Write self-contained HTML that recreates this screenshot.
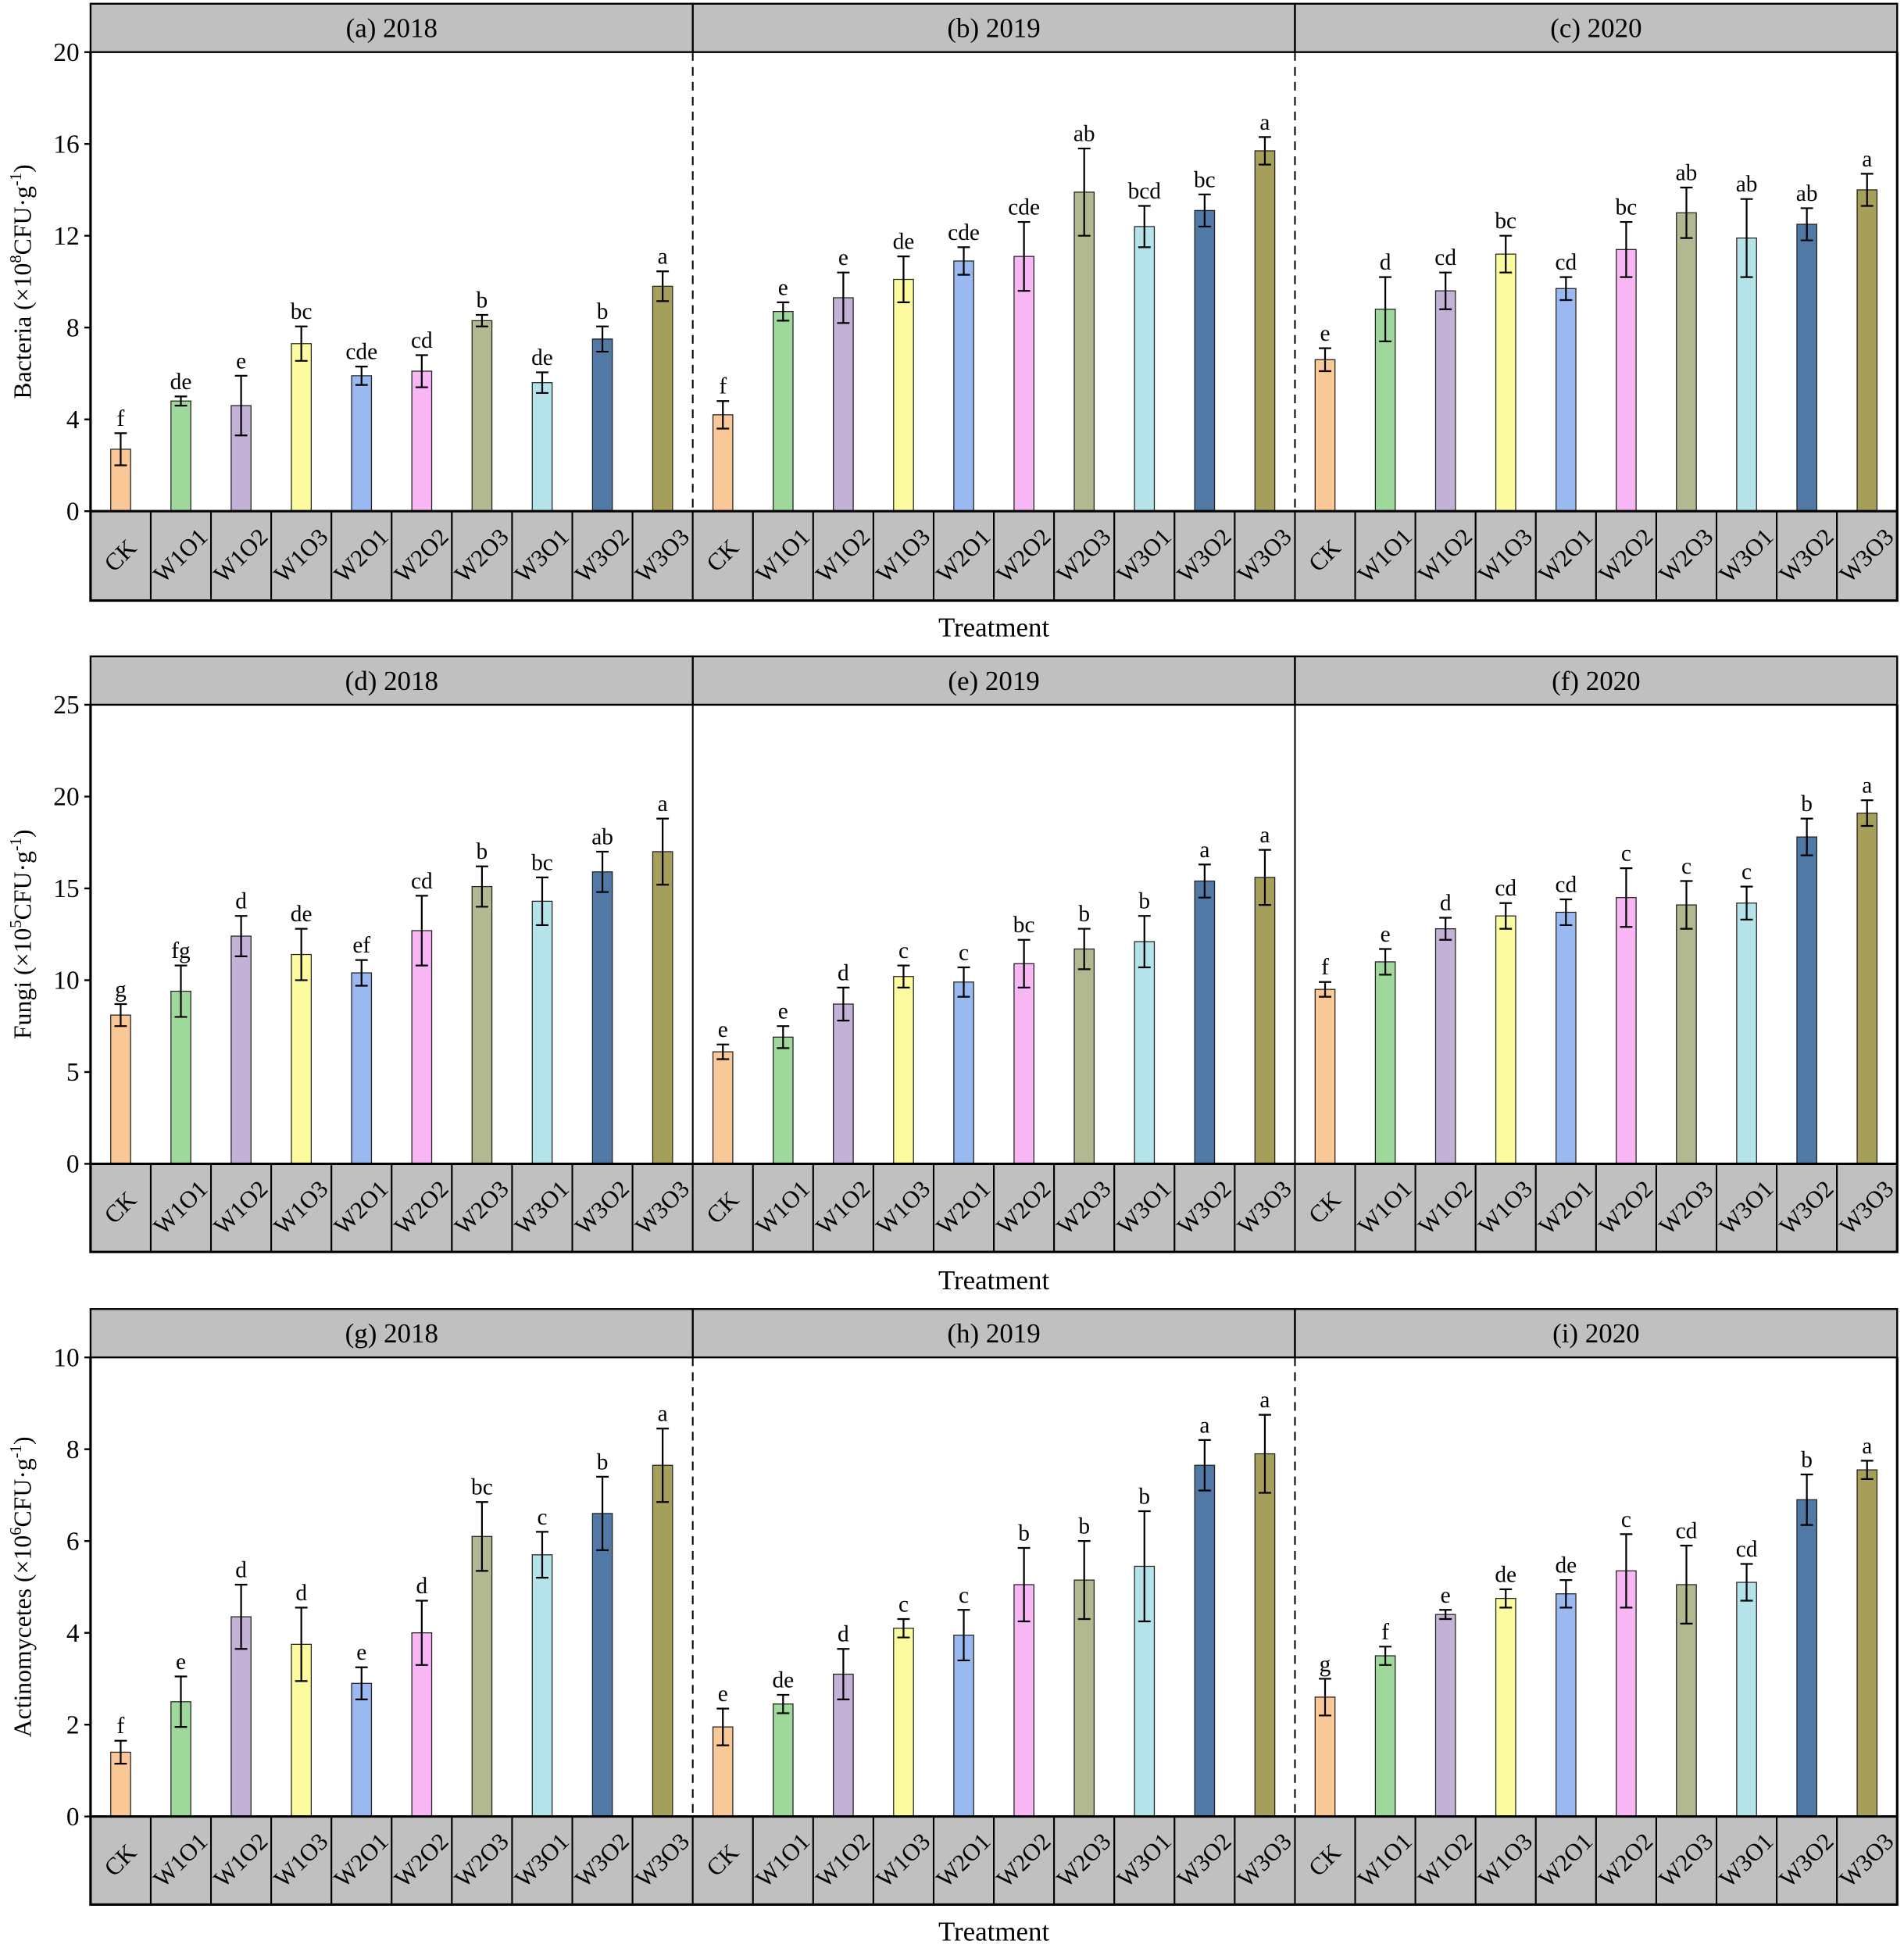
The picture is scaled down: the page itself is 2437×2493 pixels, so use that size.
<!DOCTYPE html>
<html><head><meta charset="utf-8"><style>
html,body{margin:0;padding:0;background:#fff}
svg{display:block}
text{font-family:"Liberation Serif",serif;fill:#000}
</style></head><body>
<svg id="fig" width="2437" height="2493" viewBox="0 0 1535 1570" preserveAspectRatio="none" xmlns="http://www.w3.org/2000/svg"></svg>
<script>
const categories=["CK","W1O1","W1O2","W1O3","W2O1","W2O2","W2O3","W3O1","W3O2","W3O3"];
const colors=["#f9c896","#9fd89b","#c3b1d8","#fdfb9f","#9ab9f0","#f8b6f4","#b2b890","#b4e3ea","#5079a6","#a59f5a"];
const bact2018=[2.7,4.8,4.6,7.3,5.9,6.1,8.3,5.6,7.5,9.8];
const bact2018Err=[0.7,0.2,1.3,0.75,0.4,0.7,0.25,0.45,0.55,0.65];
const bact2018Let=["f","de","e","bc","cde","cd","b","de","b","a"];
const bact2019=[4.2,8.7,9.3,10.1,10.9,11.1,13.9,12.4,13.1,15.7];
const bact2019Err=[0.6,0.4,1.1,1.0,0.6,1.5,1.9,0.9,0.7,0.6];
const bact2019Let=["f","e","e","de","cde","cde","ab","bcd","bc","a"];
const bact2020=[6.6,8.8,9.6,11.2,9.7,11.4,13.0,11.9,12.5,14.0];
const bact2020Err=[0.5,1.4,0.8,0.8,0.5,1.2,1.1,1.7,0.7,0.7];
const bact2020Let=["e","d","cd","bc","cd","bc","ab","ab","ab","a"];
const fung2018=[8.1,9.4,12.4,11.4,10.4,12.7,15.1,14.3,15.9,17.0];
const fung2018Err=[0.6,1.4,1.1,1.4,0.7,1.9,1.1,1.3,1.1,1.8];
const fung2018Let=["g","fg","d","de","ef","cd","b","bc","ab","a"];
const fung2019=[6.1,6.9,8.7,10.2,9.9,10.9,11.7,12.1,15.4,15.6];
const fung2019Err=[0.4,0.6,0.9,0.6,0.8,1.3,1.1,1.4,0.9,1.5];
const fung2019Let=["e","e","d","c","c","bc","b","b","a","a"];
const fung2020=[9.5,11.0,12.8,13.5,13.7,14.5,14.1,14.2,17.8,19.1];
const fung2020Err=[0.4,0.7,0.6,0.7,0.7,1.6,1.3,0.9,1.0,0.7];
const fung2020Let=["f","e","d","cd","cd","c","c","c","b","a"];
const act2018=[1.4,2.5,4.35,3.75,2.9,4.0,6.1,5.7,6.6,7.65];
const act2018Err=[0.25,0.55,0.7,0.8,0.35,0.7,0.75,0.5,0.8,0.8];
const act2018Let=["f","e","d","d","e","d","bc","c","b","a"];
const act2019=[1.95,2.45,3.1,4.1,3.95,5.05,5.15,5.45,7.65,7.9];
const act2019Err=[0.4,0.2,0.55,0.2,0.55,0.8,0.85,1.2,0.55,0.85];
const act2019Let=["e","de","d","c","c","b","b","b","a","a"];
const act2020=[2.6,3.5,4.4,4.75,4.85,5.35,5.05,5.1,6.9,7.55];
const act2020Err=[0.4,0.2,0.1,0.2,0.3,0.8,0.85,0.4,0.55,0.2];
const act2020Let=["g","f","e","de","de","c","cd","cd","b","a"];
const bactTicks=[0,4,8,12,16,20];
const fungTicks=[0,5,10,15,20,25];
const actTicks=[0,2,4,6,8,10];

const NS="http://www.w3.org/2000/svg";
const svg=document.getElementById("fig");
function mk(tag,attrs,parent,txt){const e=document.createElementNS(NS,tag);for(const k in attrs)e.setAttribute(k,attrs[k]);if(txt!==undefined)e.textContent=txt;(parent||svg).appendChild(e);return e;}

const X0=73,PW=485.5;
const rows=[
 {top:3,plotTop:42,zero:412,bot:484,tr:506,max:20,ticks:bactTicks,dashed:true,title:"Bacteria",exp:"8",
  panels:[["(a) 2018",bact2018,bact2018Err,bact2018Let],["(b) 2019",bact2019,bact2019Err,bact2019Let],["(c) 2020",bact2020,bact2020Err,bact2020Let]]},
 {top:529,plotTop:568,zero:938,bot:1009,tr:1032,max:25,ticks:fungTicks,dashed:false,title:"Fungi",exp:"5",
  panels:[["(d) 2018",fung2018,fung2018Err,fung2018Let],["(e) 2019",fung2019,fung2019Err,fung2019Let],["(f) 2020",fung2020,fung2020Err,fung2020Let]]},
 {top:1055,plotTop:1094,zero:1464,bot:1535,tr:1557,max:10,ticks:actTicks,dashed:true,title:"Actinomycetes",exp:"6",
  panels:[["(g) 2018",act2018,act2018Err,act2018Let],["(h) 2019",act2019,act2019Err,act2019Let],["(i) 2020",act2020,act2020Err,act2020Let]]}
];
rows.forEach((r,ri)=>{
 const g=mk("g",{});
 
 
 const yS=v=>r.zero-(v/r.max)*(r.zero-r.plotTop);
 r.panels.forEach((p,pi)=>{
  const x=X0+pi*PW;
  const s=mk("rect",{x:x,y:r.top,width:PW,height:r.plotTop-r.top,fill:"#c0c0c0",stroke:"#000","stroke-width":1.5},g);
  
  
  const t=mk("text",{x:x+PW/2,y:r.top+27,"text-anchor":"middle","font-size":22},g,p[0]);
  
  
  for(let i=0;i<10;i++){
   const cw=PW/10,cx=x+i*cw;
   const cr=mk("rect",{x:cx,y:r.zero,width:cw,height:r.bot-r.zero,fill:"#c0c0c0",stroke:"#000","stroke-width":1.3},g);
   
   
   const lx=cx+cw/2,ly=r.zero+(r.bot-r.zero)/2+6;
   const ct=mk("text",{x:lx,y:ly,"text-anchor":"middle","font-size":19.5,transform:`rotate(-45 ${lx} ${ly-6})`},g,categories[i]);
   
   
  }
  for(let i=0;i<10;i++){
   const cx=x+(i+0.5)*PW/10,v=p[1][i],e=p[2][i];
   const b=mk("rect",{x:cx-8,y:yS(v),width:16,height:r.zero-yS(v),fill:colors[i],stroke:"#222","stroke-width":0.8},g);
   
   
   const eb=mk("path",{d:`M${cx} ${yS(v+e)}V${yS(v-e)}M${cx-5} ${yS(v+e)}H${cx+5}M${cx-5} ${yS(v-e)}H${cx+5}`,stroke:"#000","stroke-width":1.4,fill:"none"},g);
   
   
   const lt=mk("text",{x:cx,y:yS(v+e)-6,"text-anchor":"middle","font-size":18.5},g,p[3][i]);
   
   
  }
  if(pi>0){
   const d=mk("line",{x1:x,y1:r.plotTop,x2:x,y2:r.zero,stroke:"#000","stroke-width":1.3},g);
   if(r.dashed)d.setAttribute("stroke-dasharray","7 5");
   
   
  }
 });
 const fr=mk("path",{d:`M${X0} ${r.plotTop}V${r.bot}H${X0+3*PW}V${r.plotTop}`,stroke:"#000","stroke-width":2,fill:"none"},g);
 
 
 mk("line",{x1:X0,y1:r.zero,x2:X0+3*PW,y2:r.zero,stroke:"#000","stroke-width":2},g);
 r.ticks.forEach(t=>{
  const y=yS(t);
  mk("line",{x1:X0-5,y1:y,x2:X0,y2:y,stroke:"#000","stroke-width":1.5},g);
  const tl=mk("text",{x:X0-9,y:y+7,"text-anchor":"end","font-size":21},g,t);
  
  
 });
 const cy=(r.plotTop+r.zero)/2;
 const yt=mk("text",{x:25,y:cy,"text-anchor":"middle","font-size":20,transform:`rotate(-90 25 ${cy})`},g);
 
 
 mk("tspan",{},yt,r.title+" (×10");
 mk("tspan",{dy:-8,"font-size":13},yt,r.exp);
 mk("tspan",{dy:8},yt,"CFU·g");
 mk("tspan",{dy:-8,"font-size":13},yt,"-1");
 mk("tspan",{dy:8},yt,")");
 const xt=mk("text",{x:X0+1.5*PW,y:r.tr+7,"text-anchor":"middle","font-size":22},g,"Treatment");
 
 
});
</script>
</body></html>
